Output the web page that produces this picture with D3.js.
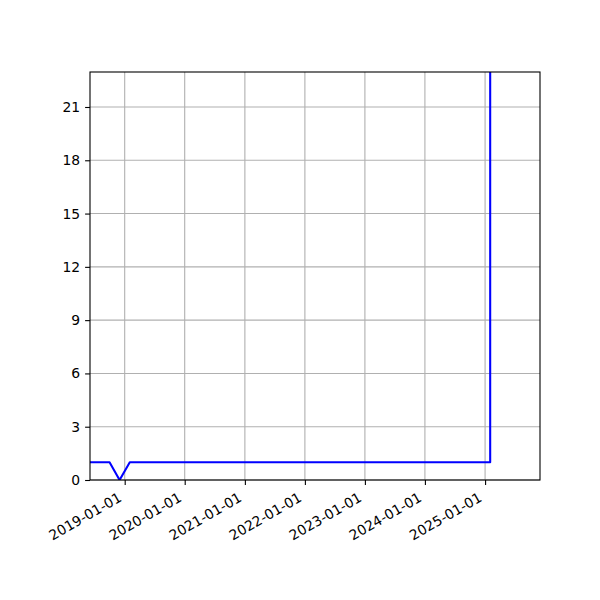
<!DOCTYPE html>
<html>
<head>
<meta charset="utf-8">
<script src="https://cdn.jsdelivr.net/npm/d3@7"></script>
<style>
  body { margin: 0; background: #fff; }
  text { font-family: "DejaVu Sans", sans-serif; }
</style>
</head>
<body>
<svg id="chart" width="600" height="600"></svg>
<script>
// Data (breakpoints of the series)
const dates = ["2018-06-01", "2018-10-01", "2018-12-01", "2019-02-01", "2025-02-01", "2025-02-02"];
const values = [1, 1, 0, 1, 1, 5000];
const xDomain = ["2018-06-04", "2025-12-01"];
const yDomain = [0, 22.97];
const yTicks = [0, 3, 6, 9, 12, 15, 18, 21];
const xTicks = ["2019-01-01", "2020-01-01", "2021-01-01", "2022-01-01", "2023-01-01", "2024-01-01", "2025-01-01"];

const parse = d3.utcParse("%Y-%m-%d");
const fmt = d3.utcFormat("%Y-%m-%d");
const data = dates.map((d, i) => ({ date: parse(d), value: values[i] }));

const margin = { left: 90, right: 60, top: 72, bottom: 120 };
const W = 600, H = 600;
const iw = W - margin.left - margin.right;
const ih = H - margin.top - margin.bottom;

const svg = d3.select("#chart");
svg.append("rect").attr("width", W).attr("height", H).attr("fill", "#fff");

const x = d3.scaleUtc().domain(xDomain.map(parse)).range([0, iw]);
const y = d3.scaleLinear().domain(yDomain).range([ih, 0]);

const g = svg.append("g").attr("transform", `translate(${margin.left},${margin.top})`);

svg.append("defs").append("clipPath").attr("id", "clip")
  .append("rect").attr("width", iw).attr("height", ih);

// grid
g.append("g").selectAll("line.vg").data(xTicks.map(parse)).join("line")
  .attr("x1", d => x(d)).attr("x2", d => x(d)).attr("y1", 0).attr("y2", ih)
  .attr("stroke", "#b0b0b0").attr("stroke-width", 1.1);
g.append("g").selectAll("line.hg").data(yTicks).join("line")
  .attr("x1", 0).attr("x2", iw).attr("y1", d => y(d)).attr("y2", d => y(d))
  .attr("stroke", "#b0b0b0").attr("stroke-width", 1.1);

// line
const line = d3.line().x(d => x(d.date)).y(d => y(d.value));
g.append("path").datum(data).attr("clip-path", "url(#clip)")
  .attr("d", line).attr("fill", "none").attr("stroke", "#0000ff")
  .attr("stroke-width", 2.08).attr("stroke-linejoin", "round").attr("stroke-linecap", "square");

// frame
g.append("rect").attr("width", iw).attr("height", ih)
  .attr("fill", "none").attr("stroke", "#000").attr("stroke-width", 1.1);

// axes
const xAxis = d3.axisBottom(x).tickValues(xTicks.map(parse)).tickFormat(fmt).tickSize(4.9).tickPadding(4);
const xa = g.append("g").attr("transform", `translate(0,${ih})`).call(xAxis);
xa.select(".domain").remove();
xa.selectAll(".tick line").attr("stroke", "#000").attr("stroke-width", 1.1);
xa.selectAll(".tick text")
  .attr("font-size", 13.9).attr("fill", "#000")
  .attr("font-family", "DejaVu Sans")
  .attr("text-anchor", "end")
  .attr("dy", null)
  .attr("x", 0)
  .attr("y", -3.3)
  .attr("transform", "translate(-1,23.2) rotate(-30)");

const yAxis = d3.axisLeft(y).tickValues(yTicks).tickSize(4.9).tickPadding(4.9);
const ya = g.append("g").call(yAxis);
ya.select(".domain").remove();
ya.selectAll(".tick line").attr("stroke", "#000").attr("stroke-width", 1.1);
ya.selectAll(".tick text").attr("font-size", 13.9).attr("fill", "#000").attr("font-family", "DejaVu Sans");
</script>
</body>
</html>
